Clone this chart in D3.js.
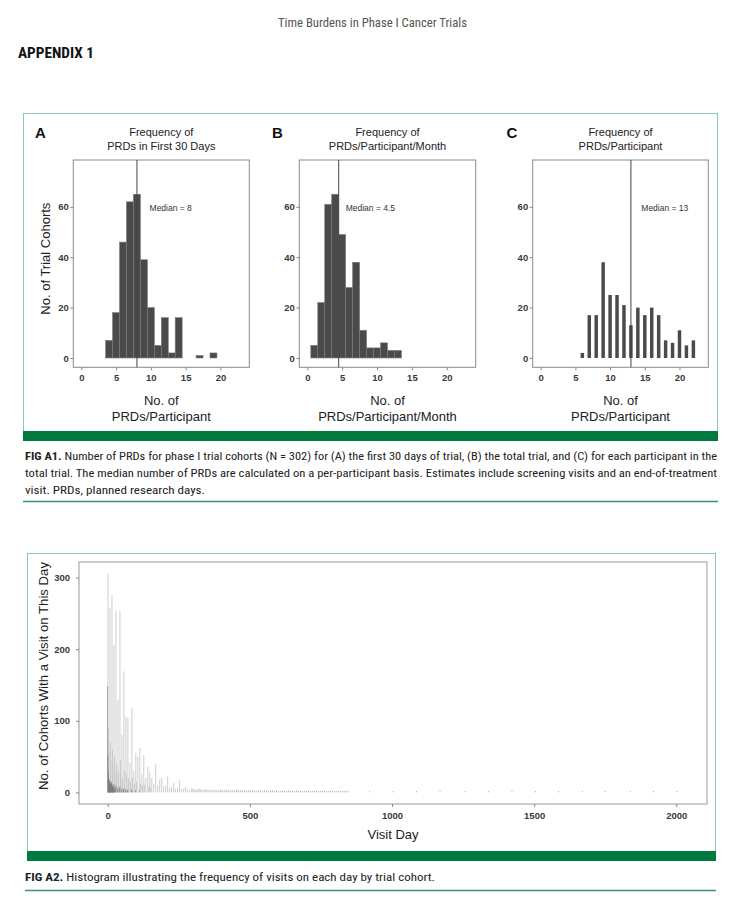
<!DOCTYPE html>
<html><head><meta charset="utf-8">
<script src="https://cdn.jsdelivr.net/npm/d3@7"></script>
<style>body{margin:0;background:#fff}svg{display:block}</style>
</head><body>
<svg id="c" width="733" height="900"></svg>
<script>
// ---------- DATA ----------
const binsA = [4,5,6,7,8,9,10,11,12,13,14,17,19];
const countsA = [7,18,46,62,65,39,20,5,16,2,16,1,2];
const binsB = [1,2,3,4,5,6,7,8,9,10,11,12,13];
const countsB = [5,22,61,65,49,28,38,11,4,4,6,3,3];
const binsC = [6,7,8,9,10,11,12,13,14,15,16,17,18,19,20,21,22];
const countsC = [2,17,17,38,25,25,21,13,20,17,20,17,7,6,11,5,7];
const medians = [8, 4.5, 13];
const medianLabels = ["Median = 8", "Median = 4.5", "Median = 13"];
const panelLetters = ["A","B","C"];
const panelTitles = [["Frequency of","PRDs in First 30 Days"],["Frequency of","PRDs/Participant/Month"],["Frequency of","PRDs/Participant"]];
const panelXLabels = [["No. of","PRDs/Participant"],["No. of","PRDs/Participant/Month"],["No. of","PRDs/Participant"]];
const panelYLabel = "No. of Trial Cohorts";
const panelXTicks = [0,5,10,15,20];
const panelYTicks = [0,20,40,60];

// Fig A2: cohorts with a visit on each day
const visitLightDays   = [1,8,15,22,29,36,43,50,57,64,71,78,85,92,99,106,113,120,127,134,141,148,155,162,169,176,183,190,197,204,211,218,225,232,239,246,253,260,267,274,281,288,295,
                          3,4,10,11,17,18,24,25,31,32,38,45,46,52,59,66,73,80,87,94,101,115,122,129,143,150];
const visitLightCounts = [305,257,276,206,254,129,254,80,169,106,104,41,118,30,55,50,62,25,52,20,36,29,20,12,40,10,18,20,8,10,22,6,8,13,5,6,17,4,5,8,4,3,5,
                          90,60,70,45,60,40,50,30,40,25,30,45,25,20,30,25,20,15,20,12,15,12,10,10,8,7];
const visitDarkDays   = [0,1,2,3,4,5,6,7,8,9,10,11,12,13,14,15,16,17,18,19,20,21,22,23,25,28,29,35,36,42,43,49,50,56,57,63,64,70,71,84,85,98,112];
const visitDarkCounts = [148,52,30,20,14,16,12,18,15,12,14,10,12,8,15,12,9,8,10,7,6,9,12,6,5,8,10,5,7,6,8,4,5,4,6,3,4,3,4,4,3,3,3];
const visitTailDays   = [300,307,314,321,328,335,342,349,356,363,370,377,384,391,398,405,412,419,426,433,440,447,454,461,468,475,482,489,496,503,510,517,524,531,538,545,552,559,566,573,580,587,594,601,608,615,622,629,636,643,650,657,664,671,678,685,692,699,706,713,720,727,734,741,748,755,762,769,776,783,790,797,804,811,818,825,832,839,846,
                         922,1004,1086,1169,1257,1340,1422,1504,1586,1669,1750,1838,1920,2002];
const visitTailCounts = [5,4,4,5,4,3,4,4,3,4,3,4,3,3,4,3,3,4,3,3,3,3,4,3,3,3,3,3,3,3,3,3,2,3,3,2,3,3,2,3,3,2,3,2,2,3,2,2,3,2,2,2,3,2,2,2,2,2,2,2,2,2,2,2,2,2,2,2,2,2,2,2,2,2,2,2,2,2,2,
                         2,2,2,2,2,2,2,2,2,2,2,2,2,2];
const visitXTicks = [0,500,1000,1500,2000];
const visitYTicks = [0,100,200,300];

// ---------- DRAW ----------
const svg = d3.select("#c");
const SANS = "'Liberation Sans', Arial, Helvetica, sans-serif";
const NARROW = "'Liberation Sans Narrow', 'Roboto Condensed', 'Liberation Sans', sans-serif";
const GREEN = "#007a3d", LGREEN = "#8cc9ae";
const TICKSIZE = 9.5;

function fitText(g, x, y, txt, len, opts) {
  const t = g.append("text").attr("x", x).attr("y", y)
    .attr("font-family", opts.family || NARROW)
    .attr("font-size", opts.size || 12)
    .attr("fill", opts.fill || "#222")
    .attr("font-weight", opts.weight || "normal")
    .attr("text-anchor", opts.anchor || "start");
  if (len) t.attr("textLength", len).attr("lengthAdjust", "spacingAndGlyphs");
  if (Array.isArray(txt)) {
    txt.forEach(p => t.append("tspan").attr("font-weight", p.b ? "bold" : "normal").text(p.t));
  } else t.text(txt);
  return t;
}
function styleAxis(s) {
  s.select(".domain").remove();
  s.selectAll("line").attr("stroke", "#888");
  s.selectAll("text").attr("font-family", SANS).attr("font-size", TICKSIZE)
    .attr("fill", "#3a3a3a").attr("font-weight", "bold");
}

// Header
fitText(svg, 372.5, 27, "Time Burdens in Phase I Cancer Trials", 189, {size: 12, fill: "#555", anchor: "middle"});
fitText(svg, 18, 58, "APPENDIX 1", 76, {size: 15, weight: "bold", fill: "#111"});

// Fig A1 box
svg.append("rect").attr("x", 23.5).attr("y", 113.5).attr("width", 694).attr("height", 318)
  .attr("fill", "none").attr("stroke", LGREEN).attr("stroke-width", 1);
svg.append("rect").attr("x", 23).attr("y", 431).attr("width", 695).attr("height", 10).attr("fill", GREEN);

// Panels
const frames = [
  {x0: 73.3, x1: 249.3, letterX: 35, medDx: 12.6},
  {x0: 299.3, x1: 475.7, letterX: 272, medDx: 7},
  {x0: 532.7, x1: 708.3, letterX: 506.5, medDx: 10.4}
];
const PY0 = 160, PY1 = 367.3;
const panelData = [
  {bins: binsA, counts: countsA, w: 1},
  {bins: binsB, counts: countsB, w: 1},
  {bins: binsC, counts: countsC, w: 0.5}
];
const py = d3.scaleLinear().domain([-3.7, 78.6]).range([PY1, PY0]);

frames.forEach((f, i) => {
  const g = svg.append("g");
  const px = d3.scaleLinear().domain([-1.15, 24.15]).range([f.x0, f.x1]);
  const d = panelData[i];
  const bars = d.bins.map((b, k) => ({b, c: d.counts[k]}));
  g.selectAll("rect.bar").data(bars).join("rect")
    .attr("x", v => px(v.b - d.w / 2))
    .attr("width", v => px(v.b + d.w / 2) - px(v.b - d.w / 2))
    .attr("y", v => py(v.c))
    .attr("height", v => py(0) - py(v.c))
    .attr("fill", "#4a4a4a")
    .attr("stroke", i < 2 ? "#7a7a7a" : "none").attr("stroke-width", 0.6);
  g.append("rect").attr("x", f.x0).attr("y", PY0).attr("width", f.x1 - f.x0).attr("height", PY1 - PY0)
    .attr("fill", "none").attr("stroke", "#8a8a8a").attr("stroke-width", 1);
  g.append("line").attr("x1", px(medians[i])).attr("x2", px(medians[i]))
    .attr("y1", PY0).attr("y2", PY1).attr("stroke", "#444").attr("stroke-width", 1);
  g.append("text").attr("x", px(medians[i]) + f.medDx).attr("y", 210.5)
    .attr("font-family", SANS).attr("font-size", 8.5).attr("fill", "#333").text(medianLabels[i]);
  g.append("g").attr("transform", `translate(${f.x0},0)`)
    .call(d3.axisLeft(py).tickValues(panelYTicks).tickSize(3).tickPadding(1.5)).call(styleAxis);
  g.append("g").attr("transform", `translate(0,${PY1})`)
    .call(d3.axisBottom(px).tickValues(panelXTicks).tickSize(3).tickPadding(4)).call(styleAxis);
  g.append("text").attr("x", f.letterX).attr("y", 138).attr("font-family", SANS)
    .attr("font-size", 15).attr("font-weight", "bold").attr("fill", "#111").text(panelLetters[i]);
  const cx = (f.x0 + f.x1) / 2;
  panelTitles[i].forEach((t, k) => g.append("text").attr("x", cx).attr("y", 136 + k * 14)
    .attr("text-anchor", "middle").attr("font-family", SANS).attr("font-size", 11).attr("fill", "#222").text(t));
  panelXLabels[i].forEach((t, k) => g.append("text").attr("x", cx).attr("y", 405 + k * 16)
    .attr("text-anchor", "middle").attr("font-family", SANS).attr("font-size", 13).attr("fill", "#222").text(t));
  if (i === 0) {
    g.append("text").attr("transform", `translate(50,${(PY0 + PY1) / 2 - 5}) rotate(-90)`)
      .attr("text-anchor", "middle").attr("font-family", SANS).attr("font-size", 13).attr("fill", "#222")
      .text(panelYLabel);
  }
});

// Fig A1 caption
fitText(svg, 25, 460, [{t: "FIG A1.", b: 1}, {t: "  Number of PRDs for phase I trial cohorts (N = 302) for (A) the first 30 days of trial, (B) the total trial, and (C) for each participant in the"}], 692, {size: 11.5, fill: "#222"});
fitText(svg, 25, 477, "total trial. The median number of PRDs are calculated on a per-participant basis. Estimates include screening visits and an end-of-treatment", 692, {size: 11.5, fill: "#222"});
fitText(svg, 25, 494, "visit. PRDs, planned research days.", 180, {size: 11.5, fill: "#222"});
svg.append("line").attr("x1", 23).attr("x2", 718).attr("y1", 501.5).attr("y2", 501.5).attr("stroke", "#3b9468").attr("stroke-width", 1.5);

// Fig A2 box
svg.append("rect").attr("x", 27.5).attr("y", 553.5).attr("width", 688).attr("height", 298)
  .attr("fill", "none").attr("stroke", LGREEN).attr("stroke-width", 1);
svg.append("rect").attr("x", 27).attr("y", 851).attr("width", 689).attr("height", 10).attr("fill", GREEN);

const FX0 = 79, FX1 = 707, FY0 = 562, FY1 = 804;
const vx = d3.scaleLinear().domain([-101, 2108]).range([FX0, FX1]);
const vy = d3.scaleLinear().domain([-16.2, 321.7]).range([FY1, FY0]);
const g2 = svg.append("g");
function spikes(days, counts, color, w) {
  const dat = days.map((d, k) => ({d, c: counts[k]}));
  g2.append("g").selectAll("rect").data(dat).join("rect")
    .attr("x", v => vx(v.d) - w / 2).attr("width", w)
    .attr("y", v => vy(v.c)).attr("height", v => vy(0) - vy(v.c))
    .attr("fill", color);
}
spikes(visitLightDays, visitLightCounts, "#c8c8c8", 0.9);
spikes(visitTailDays, visitTailCounts, "#a8a8a8", 0.8);
spikes(visitDarkDays, visitDarkCounts, "#7a7a7a", 0.6);
g2.append("rect").attr("x", FX0).attr("y", FY0).attr("width", FX1 - FX0).attr("height", FY1 - FY0)
  .attr("fill", "none").attr("stroke", "#9a9a9a").attr("stroke-width", 1);
g2.append("g").attr("transform", `translate(${FX0},0)`)
  .call(d3.axisLeft(vy).tickValues(visitYTicks).tickSize(3).tickPadding(6)).call(styleAxis);
g2.append("g").attr("transform", `translate(0,${FY1})`)
  .call(d3.axisBottom(vx).tickValues(visitXTicks).tickFormat(d3.format("d")).tickSize(3).tickPadding(5)).call(styleAxis);
g2.append("text").attr("x", 393).attr("y", 839).attr("text-anchor", "middle")
  .attr("font-family", SANS).attr("font-size", 13).attr("fill", "#222").text("Visit Day");
g2.append("text").attr("transform", "translate(47.5,676) rotate(-90)").attr("text-anchor", "middle")
  .attr("font-family", SANS).attr("font-size", 12.5).attr("fill", "#222")
  .attr("textLength", 228).attr("lengthAdjust", "spacingAndGlyphs")
  .text("No. of Cohorts With a Visit on This Day");

// Fig A2 caption
fitText(svg, 25, 881, [{t: "FIG A2.", b: 1}, {t: "  Histogram illustrating the frequency of visits on each day by trial cohort."}], 410, {size: 11.5, fill: "#222"});
svg.append("line").attr("x1", 25).attr("x2", 716).attr("y1", 890.5).attr("y2", 890.5).attr("stroke", "#3b9468").attr("stroke-width", 1.5);
</script>
</body></html>
